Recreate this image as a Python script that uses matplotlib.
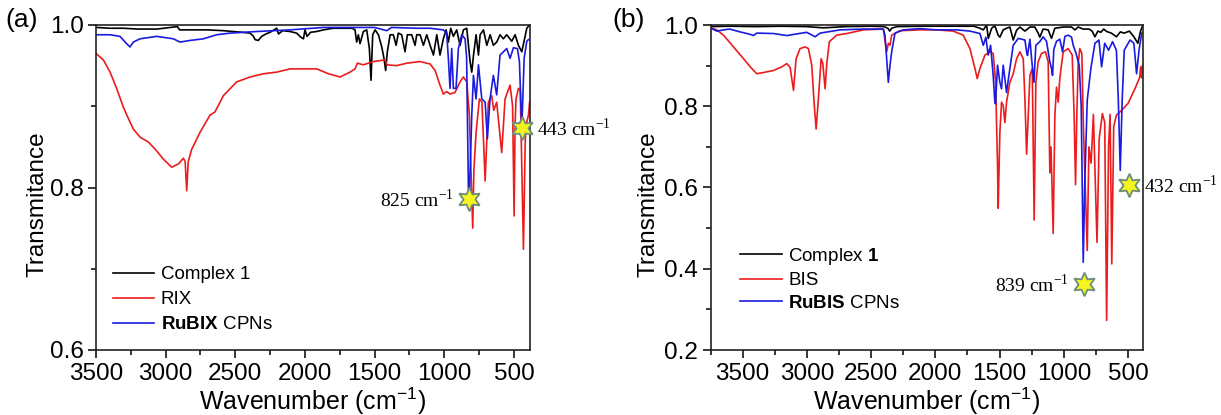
import matplotlib
matplotlib.use("Agg")
import matplotlib.pyplot as plt
from matplotlib.ticker import MultipleLocator

plt.rcParams['font.family'] = ['Liberation Sans', 'DejaVu Sans']
plt.rcParams['mathtext.fontset'] = 'custom'
plt.rcParams['mathtext.rm'] = 'Liberation Sans'
plt.rcParams['mathtext.bf'] = 'Liberation Sans:bold'
plt.rcParams['mathtext.it'] = 'Liberation Sans:italic'

# ---- panel (a) data: wavenumber (cm-1) / transmitance ----
a_complex_wn = [3500, 3400, 3300, 3200, 3064, 2916, 2900, 2825, 2700, 2586, 2450, 2394, 2370, 2358,
                2335, 2311, 2280, 2251, 2203, 2190, 2160, 2107, 2060, 2030, 2011, 2000, 1985, 1960,
                1916, 1868, 1800, 1700, 1660, 1641, 1629, 1617, 1605, 1581, 1557, 1538, 1526, 1514,
                1497, 1473, 1449, 1433, 1421, 1409, 1389, 1366, 1346, 1330, 1306, 1282, 1265, 1234,
                1210, 1198, 1174, 1150, 1126, 1102, 1078, 1054, 1031, 1007, 987, 971, 954, 935, 911,
                887, 863, 839, 815, 803, 791, 772, 755, 743, 719, 695, 671, 648, 624, 600, 576, 552,
                516, 492, 468, 444, 425, 408, 389]
a_complex_t = [0.997, 0.996, 0.996, 0.995, 0.995, 0.998, 0.994, 0.994, 0.994, 0.993, 0.991, 0.990,
               0.986, 0.982, 0.981, 0.986, 0.989, 0.991, 0.996, 0.989, 0.993, 0.992, 0.990, 0.985,
               0.983, 0.994, 0.986, 0.991, 0.992, 0.994, 0.996, 0.996, 0.996, 0.994, 0.979, 0.988,
               0.977, 0.992, 0.994, 0.971, 0.932, 0.988, 0.994, 0.988, 0.973, 0.959, 0.944, 0.967,
               0.988, 0.988, 0.975, 0.990, 0.988, 0.967, 0.988, 0.988, 0.975, 0.988, 0.988, 0.975,
               0.988, 0.975, 0.963, 0.988, 0.963, 0.983, 0.994, 0.979, 0.996, 0.986, 0.994, 0.975,
               0.994, 0.996, 0.955, 0.942, 0.962, 0.988, 0.963, 0.988, 0.994, 0.975, 0.988, 0.975,
               0.979, 0.988, 0.983, 0.988, 0.980, 0.988, 0.975, 0.967, 0.982, 0.996, 1.000]

a_rix_wn = [3500, 3447, 3399, 3352, 3304, 3268, 3232, 3184, 3124, 3064, 3017, 2957, 2909, 2873,
            2860, 2849, 2838, 2813, 2753, 2682, 2646, 2586, 2490, 2394, 2299, 2203, 2107, 2011,
            1916, 1832, 1748, 1677, 1641, 1624, 1581, 1509, 1425, 1413, 1342, 1270, 1174, 1102,
            1066, 1031, 1007, 983, 959, 923, 887, 863, 839, 820, 805, 796, 788, 772, 748, 730, 707,
            690, 684, 660, 645, 624, 588, 564, 528, 510, 499, 492, 485, 468, 455, 432, 420, 415,
            396, 388]
a_rix_t = [0.965, 0.957, 0.942, 0.922, 0.899, 0.885, 0.872, 0.862, 0.856, 0.845, 0.835, 0.825,
           0.829, 0.836, 0.832, 0.796, 0.832, 0.847, 0.868, 0.889, 0.893, 0.913, 0.930, 0.936,
           0.940, 0.942, 0.946, 0.946, 0.946, 0.940, 0.936, 0.942, 0.946, 0.953, 0.951, 0.955,
           0.957, 0.951, 0.950, 0.953, 0.955, 0.952, 0.944, 0.926, 0.915, 0.918, 0.915, 0.917,
           0.930, 0.936, 0.930, 0.889, 0.800, 0.750, 0.820, 0.868, 0.909, 0.905, 0.808, 0.880,
           0.905, 0.913, 0.895, 0.905, 0.843, 0.909, 0.926, 0.900, 0.765, 0.880, 0.909, 0.922,
           0.920, 0.724, 0.850, 0.876, 0.889, 0.905]

a_rubix_wn = [3500, 3399, 3328, 3280, 3256, 3232, 3184, 3064, 2945, 2897, 2825, 2729, 2634, 2538,
              2346, 2107, 1868, 1700, 1500, 1413, 1380, 1200, 1102, 1007, 983, 971, 959, 947, 935,
              916, 899, 875, 851, 840, 827, 820, 803, 791, 772, 755, 731, 707, 691, 672, 648, 624,
              600, 576, 552, 528, 504, 475, 461, 444, 427, 408, 396]
a_rubix_t = [0.988, 0.988, 0.986, 0.977, 0.973, 0.979, 0.983, 0.986, 0.983, 0.979, 0.981, 0.983,
             0.988, 0.990, 0.992, 0.994, 0.997, 0.997, 0.997, 0.993, 0.997, 0.996, 0.996, 0.994,
             0.990, 0.959, 0.922, 0.971, 0.922, 0.922, 0.971, 0.988, 0.983, 0.960, 0.798, 0.790,
             0.889, 0.938, 0.909, 0.951, 0.909, 0.905, 0.860, 0.909, 0.938, 0.914, 0.963, 0.967,
             0.971, 0.959, 0.972, 0.971, 0.955, 0.872, 0.959, 0.980, 0.982]

a_peak_wn = [820, 444]
a_peak_t = [0.786, 0.873]
a_peak_text = ["825 cm$^{\\mathregular{-1}}$", "443 cm$^{\\mathregular{-1}}$"]

# ---- panel (b) data ----
b_complex_wn = [3750, 3600, 3400, 3200, 3000, 2871, 2700, 2500, 2400, 2370, 2355, 2340, 2300, 2100,
                1900, 1700, 1653, 1627, 1601, 1588, 1562, 1537, 1511, 1498, 1472, 1446, 1420, 1394,
                1368, 1342, 1303, 1264, 1226, 1200, 1187, 1161, 1122, 1096, 1070, 1005, 940, 914, 889,
                850, 803, 780, 758, 735, 712, 690, 667, 630, 591, 560, 530, 490, 455, 424, 403, 385]
b_complex_t = [0.996, 0.997, 0.996, 0.997, 0.996, 0.993, 0.996, 0.997, 0.996, 0.992, 0.985, 0.992,
               0.996, 0.997, 0.997, 0.997, 0.992, 0.988, 1.000, 0.967, 0.992, 0.998, 0.975, 0.970,
               0.988, 0.992, 0.995, 0.963, 0.987, 0.995, 0.985, 0.995, 0.995, 0.980, 0.970, 0.990,
               0.988, 0.967, 0.992, 0.995, 0.995, 0.988, 0.995, 0.990, 0.990, 0.985, 0.971, 0.985,
               0.982, 0.990, 0.984, 0.980, 0.971, 0.983, 0.980, 0.985, 0.971, 0.955, 0.985, 1.000]

b_bis_wn = [3747, 3701, 3649, 3571, 3493, 3441, 3390, 3338, 3260, 3195, 3156, 3130, 3104, 3084, 3053,
            3014, 2988, 2962, 2944, 2928, 2910, 2889, 2876, 2858, 2845, 2825, 2768, 2690, 2560, 2405,
            2379, 2366, 2353, 2340, 2275, 2120, 1990, 1861, 1783, 1731, 1692, 1674, 1653, 1614, 1575,
            1550, 1531, 1516, 1511, 1498, 1485, 1472, 1459, 1446, 1420, 1394, 1368, 1342, 1316, 1303,
            1290, 1277, 1264, 1246, 1231, 1218, 1200, 1174, 1143, 1122, 1109, 1100, 1083, 1070, 1057,
            1044, 1031, 1005, 966, 935, 920, 909, 899, 889, 876, 860, 848, 818, 805, 788, 770, 742,
            725, 700, 682, 667, 652, 640, 627, 612, 591, 550, 500, 440, 409, 403, 395, 388]
b_bis_t = [0.993, 0.988, 0.975, 0.946, 0.917, 0.897, 0.880, 0.883, 0.888, 0.897, 0.905, 0.895, 0.839,
           0.917, 0.942, 0.946, 0.942, 0.901, 0.810, 0.744, 0.820, 0.917, 0.905, 0.843, 0.905, 0.959,
           0.975, 0.979, 0.988, 0.990, 0.934, 0.955, 0.950, 0.975, 0.986, 0.988, 0.988, 0.985, 0.975,
           0.942, 0.893, 0.868, 0.893, 0.926, 0.934, 0.930, 0.859, 0.653, 0.549, 0.735, 0.810, 0.802,
           0.760, 0.810, 0.859, 0.880, 0.917, 0.934, 0.917, 0.818, 0.682, 0.777, 0.876, 0.893, 0.520,
           0.859, 0.909, 0.930, 0.934, 0.909, 0.636, 0.700, 0.487, 0.777, 0.847, 0.810, 0.870, 0.934,
           0.942, 0.926, 0.777, 0.607, 0.777, 0.901, 0.942, 0.930, 0.750, 0.445, 0.700, 0.660, 0.780,
           0.465, 0.720, 0.782, 0.760, 0.273, 0.700, 0.780, 0.412, 0.750, 0.778, 0.790, 0.807, 0.848,
           0.872, 0.897, 0.870, 0.900]

b_rubis_wn = [3747, 3700, 3649, 3600, 3519, 3441, 3416, 3390, 3260, 3156, 3079, 3001, 2936, 2897,
              2742, 2560, 2405, 2392, 2379, 2366, 2353, 2340, 2314, 2249, 2120, 1990, 1835, 1731,
              1653, 1627, 1607, 1589, 1570, 1550, 1537, 1532, 1516, 1498, 1485, 1472, 1446, 1420,
              1394, 1355, 1303, 1290, 1283, 1264, 1251, 1233, 1218, 1187, 1161, 1135, 1109, 1096,
              1088, 1078, 1057, 1031, 1010, 992, 966, 940, 927, 905, 880, 865, 849, 838, 818, 788,
              758, 727, 706, 682, 652, 621, 591, 576, 561, 546, 530, 485, 455, 434, 415, 394]
b_rubis_t = [0.992, 0.985, 0.988, 0.990, 0.983, 0.977, 0.974, 0.980, 0.979, 0.974, 0.978, 0.982,
             0.971, 0.980, 0.988, 0.990, 0.990, 0.975, 0.917, 0.859, 0.901, 0.934, 0.980, 0.988,
             0.991, 0.988, 0.988, 0.985, 0.979, 0.950, 0.970, 0.926, 0.950, 0.876, 0.810, 0.806,
             0.901, 0.859, 0.843, 0.901, 0.834, 0.893, 0.950, 0.967, 0.963, 0.934, 0.925, 0.965,
             0.917, 0.859, 0.950, 0.959, 0.971, 0.960, 0.909, 0.893, 0.876, 0.940, 0.960, 0.965,
             0.934, 0.972, 0.975, 0.970, 0.950, 0.930, 0.900, 0.800, 0.416, 0.600, 0.815, 0.897,
             0.955, 0.963, 0.897, 0.955, 0.938, 0.959, 0.938, 0.815, 0.642, 0.815, 0.938, 0.963,
             0.955, 0.880, 0.938, 0.980]

b_peak_wn = [840, 495]
b_peak_t = [0.362, 0.605]
b_peak_text = ["839 cm$^{\\mathregular{-1}}$", "432 cm$^{\\mathregular{-1}}$"]

BLACK = "#000000"
RED = "#ec1c1c"
BLUE = "#1a1ae0"


def style_axes(ax, xlim, ylim, ymajor, xticks):
    ax.set_xlim(*xlim)
    ax.set_ylim(*ylim)
    ax.set_xticks(xticks)
    ax.xaxis.set_minor_locator(MultipleLocator(250))
    ax.yaxis.set_major_locator(MultipleLocator(ymajor))
    ax.yaxis.set_minor_locator(MultipleLocator(ymajor / 2))
    ax.tick_params(which='major', direction='out', length=6, width=1.1, labelsize=17.5, pad=3)
    ax.tick_params(which='minor', direction='out', length=3.5, width=1.1)
    for s in ax.spines.values():
        s.set_linewidth(1.2)
        s.set_color("#222222")
    ax.set_xlabel("Wavenumber (cm$^{\\mathregular{-1}}$)", fontsize=18, labelpad=1)
    ax.set_ylabel("Transmitance", fontsize=17.5)


def add_stars(ax, wn, t, texts, sides):
    ax.plot(wn, t, ls='none', marker=(6, 1, 0), ms=17, mfc='#f4f41e', mec='#6d8c7c', mew=1.3,
            zorder=6, clip_on=False)
    for x, y, s, side in zip(wn, t, texts, sides):
        dx = -11 if side == 'left' else 11
        ax.annotate(s, (x, y), xytext=(dx, 0), textcoords='offset points',
                    ha='right' if side == 'left' else 'left', va='center',
                    fontsize=14, family='Liberation Serif', annotation_clip=False)


fig = plt.figure(figsize=(12.21, 4.15), dpi=100)
ax1 = fig.add_axes([96 / 1221, 65 / 415, 434 / 1221, 325 / 415])
ax2 = fig.add_axes([710.5 / 1221, 65 / 415, 432.5 / 1221, 325 / 415])

# panel (a)
ax1.plot(a_complex_wn, a_complex_t, color=BLACK, lw=1.2, label="Complex 1")
ax1.plot(a_rix_wn, a_rix_t, color=RED, lw=1.2, label="RIX")
ax1.plot(a_rubix_wn, a_rubix_t, color=BLUE, lw=1.2, label="$\\mathbf{RuBIX}$ CPNs")
style_axes(ax1, (3500, 385), (0.6, 1.0), 0.2, [3500, 3000, 2500, 2000, 1500, 1000, 500])
ax1.yaxis.set_label_coords(-0.11, 0.45)
add_stars(ax1, a_peak_wn, a_peak_t, a_peak_text, ['left', 'right'])
ax1.legend(loc='lower left', bbox_to_anchor=(0.0, 0.0), frameon=False, fontsize=13.5,
           handlelength=2.2, handletextpad=0.35, labelspacing=0.42)
fig.text(5 / 1221, 1 - 20 / 415, "(a)", fontsize=19, va='center', ha='left')

# panel (b)
ax2.plot(b_complex_wn, b_complex_t, color=BLACK, lw=1.2, label="Complex $\\mathbf{1}$")
ax2.plot(b_bis_wn, b_bis_t, color=RED, lw=1.2, label="BIS")
ax2.plot(b_rubis_wn, b_rubis_t, color=BLUE, lw=1.2, label="$\\mathbf{RuBIS}$ CPNs")
style_axes(ax2, (3750, 384), (0.2, 1.0), 0.2, [3500, 3000, 2500, 2000, 1500, 1000, 500])
ax2.yaxis.set_minor_locator(MultipleLocator(0.1))
ax2.yaxis.set_label_coords(-0.117, 0.45)
add_stars(ax2, b_peak_wn, b_peak_t, b_peak_text, ['left', 'right'])
ax2.legend(loc='lower left', bbox_to_anchor=(0.03, 0.065), frameon=False, fontsize=13.5,
           handlelength=2.2, handletextpad=0.35, labelspacing=0.3)
fig.text(612 / 1221, 1 - 20 / 415, "(b)", fontsize=19, va='center', ha='left')

fig.savefig("out.png", dpi=100)
